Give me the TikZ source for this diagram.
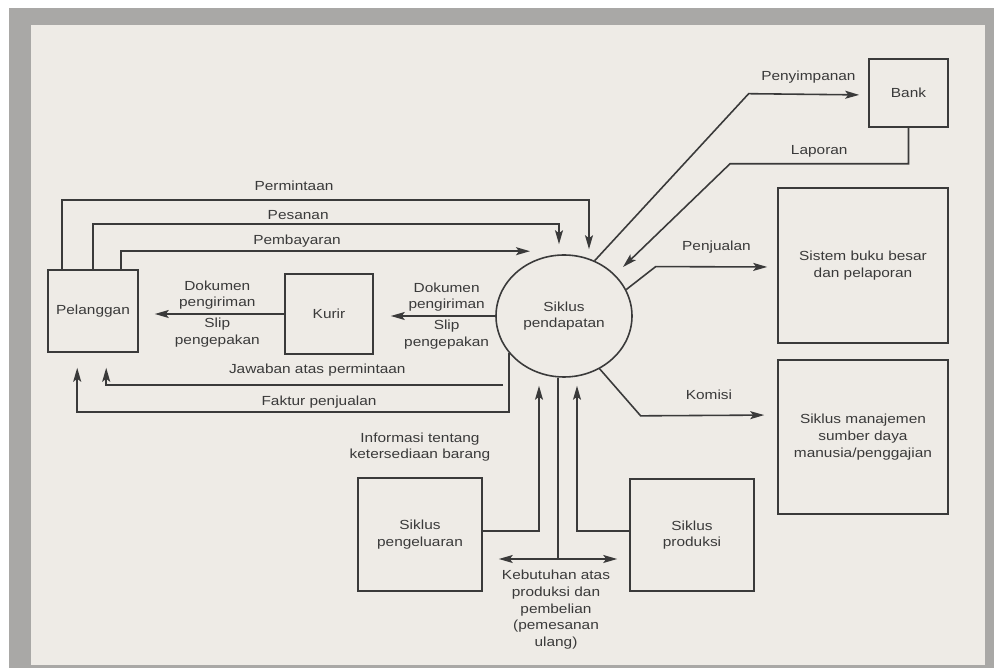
\documentclass[tikz,border=0pt]{standalone}
\usepackage{fontspec}
\setmainfont{Liberation Sans}[FakeStretch=1.17]
\usetikzlibrary{arrows.meta,shapes.geometric}
\definecolor{ink}{HTML}{3A3A3A}
\definecolor{paper}{HTML}{EEEBE6}
\definecolor{band}{HTML}{A9A8A6}
\tikzset{>={Stealth[length=2.8mm,width=1.6mm,inset=0.6mm]}}

\begin{document}
\begin{tikzpicture}[font=\fontsize{7.5}{9.5}\selectfont,text=ink,
    ent/.style={draw=ink,line width=0.9pt,align=center,inner sep=1pt},
    flow/.style={draw=ink,line width=0.9pt},
    lbl/.style={align=center,inner sep=2pt}]
    \useasboundingbox (0,0) rectangle (19.88,13.42);
    \fill[white] (0,0) rectangle (19.88,13.42);
    \fill[band] (0.18,0.06) rectangle (19.88,13.26);
    \fill[paper] (0.62,0.12) rectangle (19.70,12.92);
    \node[ent,minimum width=1.8cm,minimum height=1.64cm] (pel) at (1.86,7.20) {Pelanggan};
    \node[ent,minimum width=1.76cm,minimum height=1.6cm] (kur) at (6.58,7.14) {Kurir};
    \node[ent,ellipse,minimum width=2.72cm,minimum height=2.44cm] (sik) at (11.28,7.10) {Siklus\\pendapatan};
    \node[ent,minimum width=1.58cm,minimum height=1.36cm] (bank) at (18.17,11.56) {Bank};
    \node[ent,minimum width=3.4cm,minimum height=3.1cm] (buku) at (17.26,8.11) {Sistem buku besar\\dan pelaporan};
    \node[ent,minimum width=3.4cm,minimum height=3.08cm] (sdm) at (17.26,4.68) {Siklus manajemen\\sumber daya\\manusia/penggajian};
    \node[ent,minimum width=2.48cm,minimum height=2.26cm] (kel) at (8.40,2.73) {Siklus\\pengeluaran};
    \node[ent,minimum width=2.48cm,minimum height=2.24cm] (prod) at (13.84,2.72) {Siklus\\produksi};
    \node[lbl,above of=kel,node distance=1.75cm] (info) {Informasi tentang\\ketersediaan barang};
    %% Pelanggan to Siklus pendapatan
    \draw[flow,->,shorten >=0.1cm] ([xshift=0.30cm]pel.north west) -- ++(0,1.38) -| node[lbl,above,pos=0.22,yshift=0.1cm]{Permintaan} ([xshift=0.50cm]sik.north);
    \draw[flow,->,shorten >=0.2cm] ([xshift=0.92cm]pel.north west) -- ++(0,0.90) -| node[lbl,above,pos=0.22]{Pesanan} ([xshift=-0.10cm]sik.north);
    \draw[flow,->] ([xshift=1.48cm]pel.north west) |- node[lbl,above,pos=0.715]{Pembayaran} ([xshift=-0.68cm,yshift=0.06cm]sik.north);
    %% Kurir
    \draw[flow,->,shorten >=0.34cm] (sik.west) -- node[lbl,above,pos=0.4]{Dokumen\\pengiriman} node[lbl,below,pos=0.4]{Slip\\pengepakan} (sik.west -| kur.east);
    \draw[flow,->,shorten >=0.32cm] (kur.west) -- node[lbl,above,pos=0.46]{Dokumen\\pengiriman} node[lbl,below,pos=0.46]{Slip\\pengepakan} (kur.west -| pel.east);
    %% back to Pelanggan
    \coordinate (jw) at (10.06,5.72);
    \draw[flow,->,shorten >=0.30cm] (jw) -| node[lbl,above,pos=0.234,yshift=0.08cm]{Jawaban atas permintaan} ([xshift=1.18cm]pel.south west);
    \draw[flow,->,shorten >=0.30cm] (sik.214) -- ++(0,-1.18) -| node[lbl,above,pos=0.22]{Faktur penjualan} ([xshift=0.60cm]pel.south west);
    %% Bank and the other cycles
    \draw[flow,->,shorten >=0.18cm] (sik.61) -- ++(3.08,3.34) -- node[lbl,above,yshift=0.14cm]{Penyimpanan} ([yshift=-0.04cm]bank.west);
    \draw[flow,->,shorten >=0.22cm] (bank.south) |- node[lbl,above,pos=0.75,yshift=0.04cm]{Laporan} ++(-3.57,-0.72) -- (sik.39);
    \draw[flow,->,shorten >=0.2cm] (sik.23) -- ++(0.59,0.46) -- node[lbl,above,yshift=0.18cm]{Penjualan} ([yshift=-0.03cm]buku.west);
    \draw[flow,->,shorten >=0.26cm] (sik.304) -- ++(0.82,-0.94) -- node[lbl,above,yshift=0.22cm]{Komisi} ([yshift=0.44cm]sdm.west);
    %% Pengeluaran and produksi
    \draw[flow,->,shorten >=0.16cm] ([yshift=0.07cm]kel.east) -| ([xshift=-0.50cm]sik.south);
    \draw[flow,->,shorten >=0.16cm] ([yshift=0.08cm]prod.west) -| ([xshift=0.26cm]sik.south);
    \draw[flow] ([xshift=-0.12cm]sik.south) -- ++(0,-3.64);
    \draw[flow,<->,shorten <=0.32cm,shorten >=0.24cm] ([yshift=-0.49cm]kel.east) -- node[lbl,below,yshift=-0.14cm]{Kebutuhan atas\\produksi dan\\pembelian\\(pemesanan\\ulang)} ([yshift=-0.48cm]prod.west);
\end{tikzpicture}
\end{document}
